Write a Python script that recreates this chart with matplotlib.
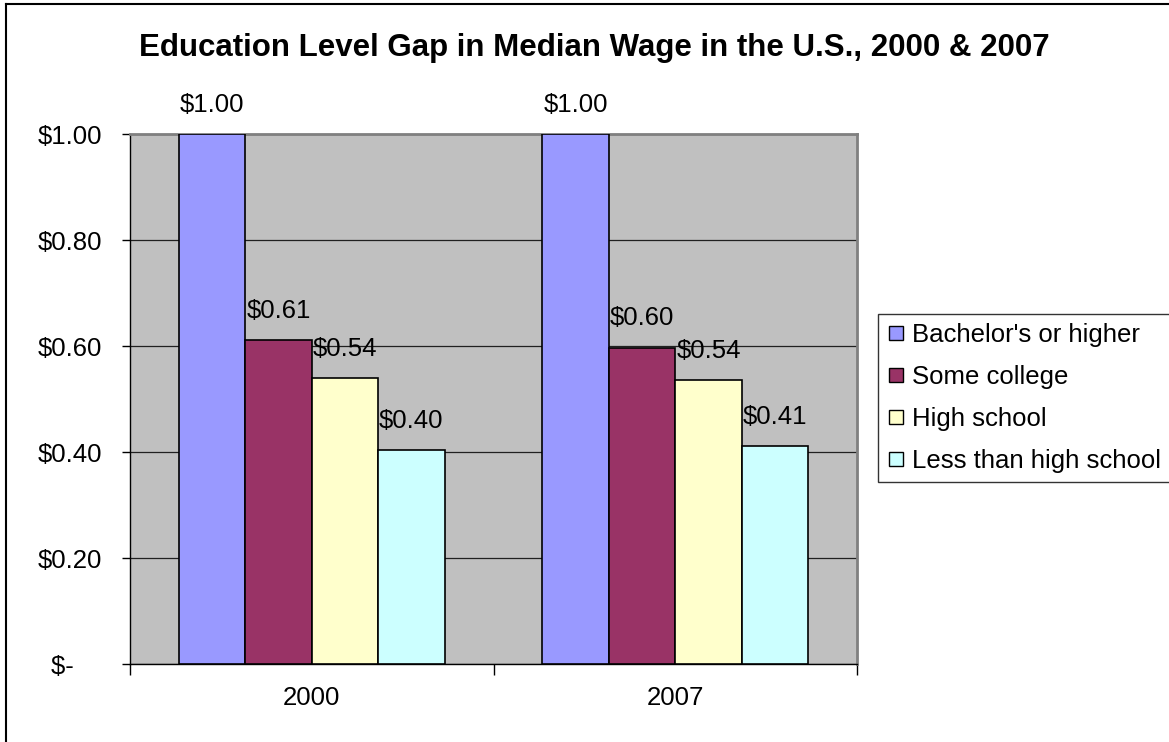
import matplotlib
matplotlib.use("Agg")
import matplotlib.pyplot as plt
from matplotlib.lines import Line2D
import numpy as np

## Données
annees = ["2000", "2007"]
niveaux = ["Bachelor's or higher", "Some college", "High school", "Less than high school"]
valeurs = {
    "Bachelor's or higher": [1.00, 1.00],
    "Some college": [0.611, 0.597],
    "High school": [0.540, 0.535],
    "Less than high school": [0.403, 0.411],
}
couleurs = ["#9999FF", "#993366", "#FFFFCC", "#CCFFFF"]
y_ticks = [0, 0.2, 0.4, 0.6, 0.8, 1.0]
y_labels = ["$-    ", "$0.20", "$0.40", "$0.60", "$0.80", "$1.00"]

plt.rcParams["font.family"] = ["Liberation Sans", "DejaVu Sans"]
plt.rcParams["font.size"] = 18.5

W, H = 1169, 742
fig = plt.figure(figsize=(W / 100, H / 100), dpi=100)
ax = fig.add_axes([130 / W, 1 - 664 / H, 727 / W, 530 / H])
ax.set_facecolor("#C0C0C0")

x = np.arange(len(annees))
largeur = 0.1827
for i, (nom, coul) in enumerate(zip(niveaux, couleurs)):
    pos = x + (i - 1.5) * largeur
    ax.bar(pos, valeurs[nom], largeur, color=coul, edgecolor="black",
           linewidth=1.2, zorder=3, label=nom)
    for xp, v in zip(pos, valeurs[nom]):
        ax.annotate("$%.2f" % v, (xp, v), xytext=(0, 21), textcoords="offset points",
                    ha="center", va="center", fontsize=18.5, annotation_clip=False)

ax.set_xlim(-0.5, 1.5)
ax.set_ylim(0, 1.0)
ax.set_yticks(y_ticks)
ax.set_yticklabels(y_labels)
ax.yaxis.grid(True, color="#202020", linewidth=0.9, zorder=0)
ax.set_axisbelow(True)
ax.tick_params(axis="y", direction="out", length=6, width=1, pad=14)

ax.set_xticks(x)
ax.set_xticklabels(annees)
ax.set_xticks([-0.5, 0.5, 1.5], minor=True)
ax.tick_params(axis="x", which="major", length=0, pad=16)
ax.tick_params(axis="x", which="minor", direction="out", length=8, width=1)

for s in ["left", "bottom"]:
    ax.spines[s].set_color("black")
    ax.spines[s].set_linewidth(1)
for s in ["top", "right"]:
    ax.spines[s].set_color("#808080")
    ax.spines[s].set_linewidth(2)

fig.text(594 / W, 1 - 48 / H, "Education Level Gap in Median Wage in the U.S., 2000 & 2007",
         ha="center", va="center", fontsize=22.5, fontweight="bold")

poignees = [Line2D([], [], marker="s", linestyle="none", markersize=10,
                   markerfacecolor=c, markeredgecolor="black", markeredgewidth=1)
            for c in couleurs]
leg = fig.legend(poignees, niveaux, loc="upper left",
                 bbox_to_anchor=(878 / W, 1 - 314 / H), borderaxespad=0,
                 fontsize=18.5, frameon=True, fancybox=False, handlelength=0.7,
                 handletextpad=0.27, labelspacing=0.7, borderpad=0.35)
leg.get_frame().set_edgecolor("black")
leg.get_frame().set_linewidth(1)

# cadre extérieur
fig.add_artist(Line2D([6 / W, 6 / W], [0, 1 - 4 / H], color="black", lw=1.5))
fig.add_artist(Line2D([6 / W, 1], [1 - 4 / H, 1 - 4 / H], color="black", lw=1.5))

fig.savefig("out.png", dpi=100)
